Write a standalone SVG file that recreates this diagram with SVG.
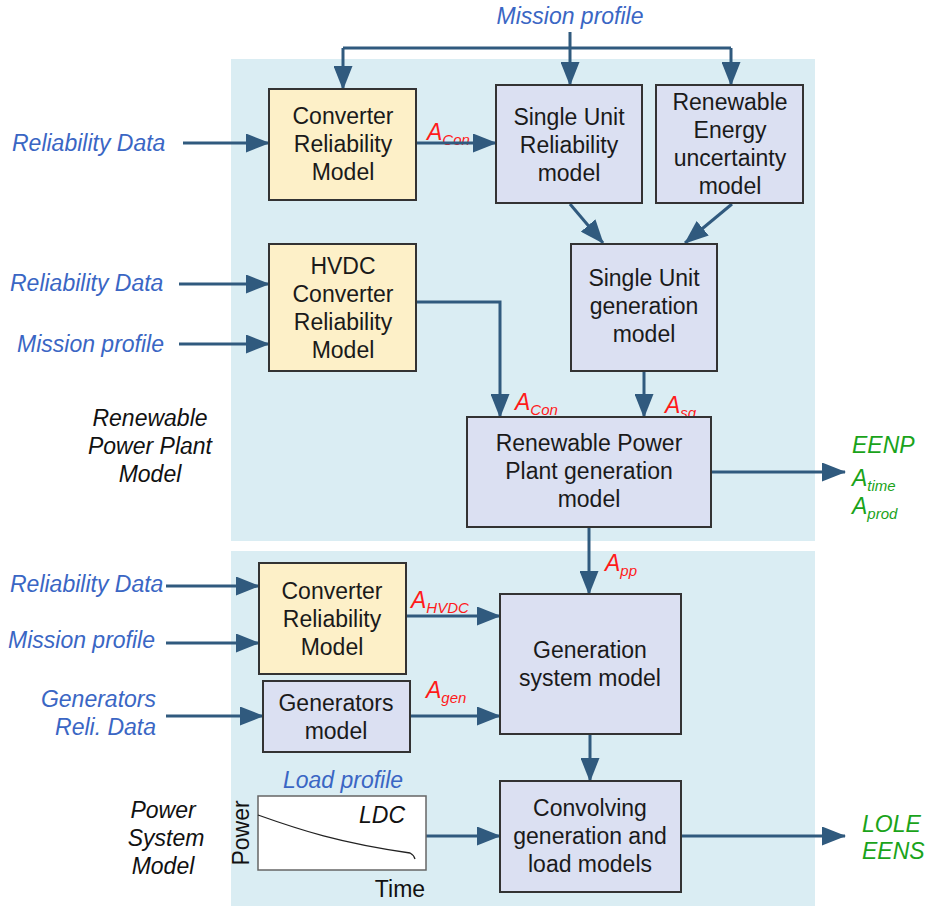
<svg xmlns="http://www.w3.org/2000/svg" width="926" height="906" viewBox="0 0 926 906">
<defs>
<marker id="ah" viewBox="0 0 24 19" refX="23" refY="9.5" markerWidth="24" markerHeight="19" markerUnits="userSpaceOnUse" orient="auto">
<path d="M0,0 L24,9.5 L0,19 z" fill="#305a7e"/>
</marker>
<style>
.panel{fill:#daedf3}
.bb{fill:#dbe0f2;stroke:#333;stroke-width:2}
.yb{fill:#fdf0c8;stroke:#333;stroke-width:2}
.t{font-family:"Liberation Sans",Arial,sans-serif;font-size:23px;fill:#1a1a1a;text-anchor:middle}
.it{font-family:"Liberation Sans",Arial,sans-serif;font-size:23px;font-style:italic;fill:#111;text-anchor:middle}
.bl{font-family:"Liberation Sans",Arial,sans-serif;font-size:23px;font-style:italic;fill:#3a66c4}
.rd{font-family:"Liberation Sans",Arial,sans-serif;font-size:23px;font-style:italic;fill:#ff1a1a}
.rd tspan.s{font-size:15px}
.gr{font-family:"Liberation Sans",Arial,sans-serif;font-size:23px;font-style:italic;fill:#1aa31a}
.gr tspan.s{font-size:15px}
.c{fill:none;stroke:#305a7e;stroke-width:3;marker-end:url(#ah)}
.cn{fill:none;stroke:#305a7e;stroke-width:3}
</style>
</defs>
<rect x="0" y="0" width="926" height="906" fill="#fff"/>
<rect class="panel" x="231" y="59" width="584" height="482"/>
<rect class="panel" x="231" y="551" width="584" height="355"/>

<g id="labels">
<text class="bl" x="570" y="24" text-anchor="middle">Mission profile</text>
<text class="bl" x="12" y="151">Reliability Data</text>
<text class="bl" x="10" y="291">Reliability Data</text>
<text class="bl" x="17" y="352">Mission profile</text>
<text class="it" x="150" y="426">Renewable</text>
<text class="it" x="150" y="454">Power Plant</text>
<text class="it" x="150" y="482">Model</text>
<text class="bl" x="10" y="592">Reliability Data</text>
<text class="bl" x="8" y="648">Mission profile</text>
<text class="bl" x="156" y="707" text-anchor="end">Generators</text>
<text class="bl" x="156" y="735" text-anchor="end">Reli. Data</text>
<text class="it" x="163" y="818">Power</text>
<text class="it" x="166" y="846">System</text>
<text class="it" x="163" y="874">Model</text>
<text class="bl" x="343" y="788" text-anchor="middle">Load profile</text>
<text class="gr" x="852" y="453">EENP</text>
<text class="gr" x="852" y="486">A<tspan class="s" dy="5">time</tspan></text>
<text class="gr" x="852" y="514">A<tspan class="s" dy="5">prod</tspan></text>
<text class="gr" x="862" y="832">LOLE</text>
<text class="gr" x="862" y="859">EENS</text>
<text class="rd" x="427" y="140">A<tspan class="s" dy="5">Con</tspan></text>
<text class="rd" x="515" y="410">A<tspan class="s" dy="5">Con</tspan></text>
<text class="rd" x="665" y="413">A<tspan class="s" dy="5">sg</tspan></text>
<text class="rd" x="605" y="571">A<tspan class="s" dy="5">pp</tspan></text>
<text class="rd" x="411" y="608">A<tspan class="s" dy="5">HVDC</tspan></text>
<text class="rd" x="426" y="698">A<tspan class="s" dy="5">gen</tspan></text>
</g>

<g id="connectors">
<path class="cn" d="M570,32 V48 M343,48 H731"/>
<path class="c" d="M343,48 V89"/>
<path class="c" d="M570,48 V85"/>
<path class="c" d="M731,48 V85"/>
<path class="c" d="M183,143 H269"/>
<path class="c" d="M416,143 H496"/>
<path class="c" d="M570,204 L603,243"/>
<path class="c" d="M732,204 L685,243"/>
<path class="c" d="M179,284 H269"/>
<path class="c" d="M179,344 H269"/>
<path class="c" d="M416,302 H500 V417"/>
<path class="c" d="M644,371 V417"/>
<path class="c" d="M711,472 H845"/>
<path class="c" d="M589,527 V594"/>
<path class="c" d="M166,586 H259"/>
<path class="c" d="M166,643 H259"/>
<path class="c" d="M166,716 H263"/>
<path class="c" d="M406,616 H500"/>
<path class="c" d="M410,716 H500"/>
<path class="c" d="M590,734 V781"/>
<path class="c" d="M426,836 H500"/>
<path class="c" d="M681,836 H845"/>
</g>

<g id="conv1">
<rect class="yb" x="269" y="89" width="147" height="111"/>
<text class="t" x="343" y="124">Converter</text>
<text class="t" x="343" y="152">Reliability</text>
<text class="t" x="343" y="180">Model</text>
</g>
<g id="sureliab">
<rect class="bb" x="496" y="85" width="146" height="118"/>
<text class="t" x="569" y="125">Single Unit</text>
<text class="t" x="569" y="153">Reliability</text>
<text class="t" x="569" y="181">model</text>
</g>
<g id="reuncert">
<rect class="bb" x="656" y="85" width="147" height="118"/>
<text class="t" x="730" y="110">Renewable</text>
<text class="t" x="730" y="138">Energy</text>
<text class="t" x="730" y="166">uncertainty</text>
<text class="t" x="730" y="194">model</text>
</g>
<g id="hvdc">
<rect class="yb" x="269" y="244" width="147" height="127"/>
<text class="t" x="343" y="274">HVDC</text>
<text class="t" x="343" y="302">Converter</text>
<text class="t" x="343" y="330">Reliability</text>
<text class="t" x="343" y="358">Model</text>
</g>
<g id="sugen">
<rect class="bb" x="571" y="244" width="146" height="127"/>
<text class="t" x="644" y="286">Single Unit</text>
<text class="t" x="644" y="314">generation</text>
<text class="t" x="644" y="342">model</text>
</g>
<g id="rppgen">
<rect class="bb" x="467" y="417" width="244" height="110"/>
<text class="t" x="589" y="451">Renewable Power</text>
<text class="t" x="589" y="479">Plant generation</text>
<text class="t" x="589" y="507">model</text>
</g>
<g id="conv2">
<rect class="yb" x="259" y="563" width="147" height="111"/>
<text class="t" x="332" y="599">Converter</text>
<text class="t" x="332" y="627">Reliability</text>
<text class="t" x="332" y="655">Model</text>
</g>
<g id="genmodel">
<rect class="bb" x="263" y="681" width="147" height="71"/>
<text class="t" x="336" y="711">Generators</text>
<text class="t" x="336" y="739">model</text>
</g>
<g id="gensys">
<rect class="bb" x="500" y="594" width="181" height="140"/>
<text class="t" x="590" y="658">Generation</text>
<text class="t" x="590" y="686">system model</text>
</g>
<g id="convolve">
<rect class="bb" x="500" y="781" width="181" height="111"/>
<text class="t" x="590" y="816">Convolving</text>
<text class="t" x="590" y="844">generation and</text>
<text class="t" x="590" y="872">load models</text>
</g>
<g id="ldc">
<rect x="258" y="796" width="168" height="74" fill="#fff" stroke="#666" stroke-width="1.5"/>
<path d="M258,815 C300,830 340,843 410,853 Q414,855 415,859" fill="none" stroke="#222" stroke-width="1.3"/>
<text class="it" x="382" y="823">LDC</text>
<text class="t" x="249" y="833" transform="rotate(-90 249 833)" style="fill:#111">Power</text>
<text class="t" x="400" y="897" style="fill:#111">Time</text>
</g>
</svg>
